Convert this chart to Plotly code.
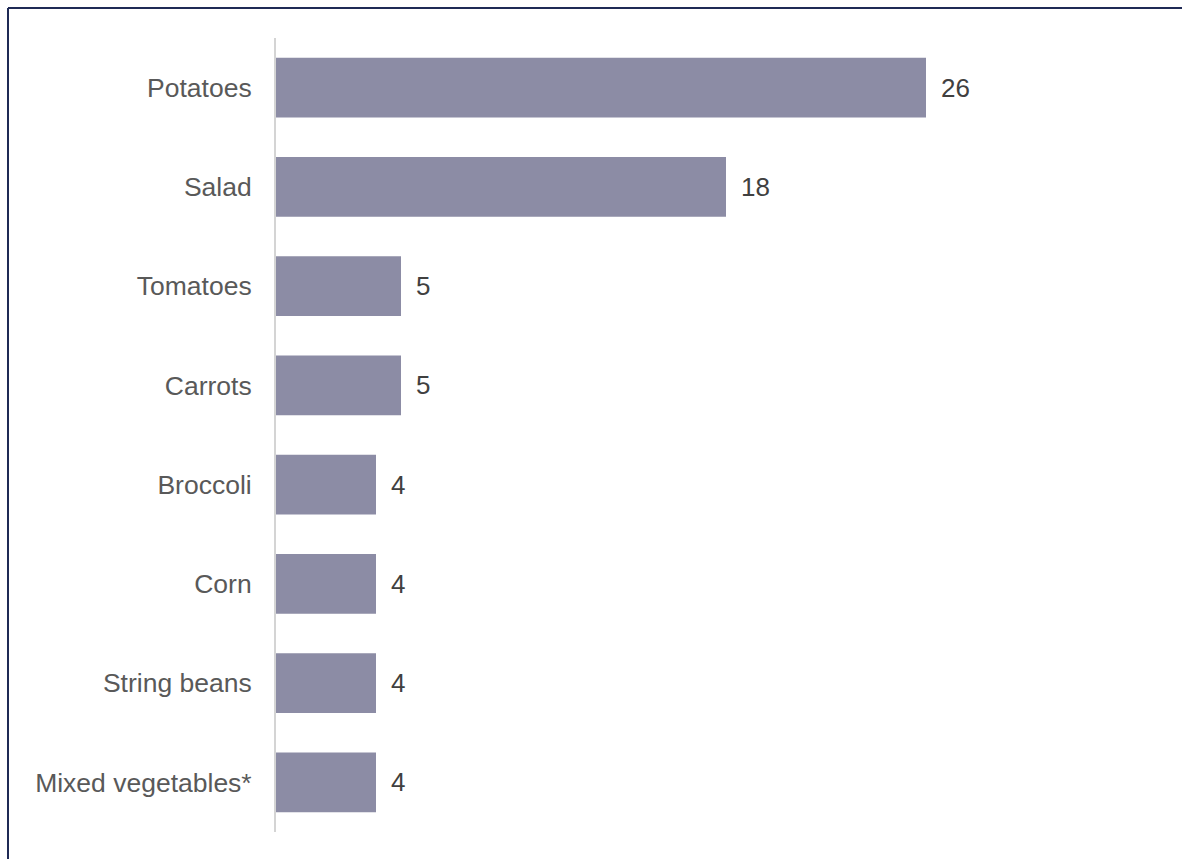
import plotly.graph_objects as go

categories = ["Potatoes", "Salad", "Tomatoes", "Carrots", "Broccoli", "Corn",
              "String beans", "Mixed vegetables*"]
values = [26, 18, 5, 5, 4, 4, 4, 4]
labels = [str(v) for v in values]

BAR_COLOR = "#8c8ca5"
FONT = "Liberation Sans, Arial, sans-serif"

fig = go.Figure()
fig.add_trace(go.Bar(
    y=categories, x=values, orientation="h",
    marker=dict(color=BAR_COLOR, line=dict(width=0)),
    width=0.6, hoverinfo="skip", showlegend=False,
))

for c, v, t in zip(categories, values, labels):
    fig.add_annotation(x=v, y=c, text=t, showarrow=False, xanchor="left",
                       xshift=13, font=dict(family=FONT, size=26, color="#404040"))

L, T, R, B = 276, 38, 6, 27
W, H = 1182, 859
pw = W - L - R
ph = H - T - B

bx0 = (8 - L) / pw
bx1 = (W - L) / pw
by0 = -(H - (H - B)) / ph
by1 = 1 + (T - 8) / ph
border = dict(color="#1f2a55", width=2)
fig.add_shape(type="line", xref="paper", yref="paper", x0=bx0, x1=bx1, y0=by1, y1=by1,
              line=border, layer="above")
fig.add_shape(type="line", xref="paper", yref="paper", x0=bx0, x1=bx0, y0=by0, y1=by1,
              line=border, layer="above")

fig.update_layout(
    width=W, height=H,
    margin=dict(l=L, r=R, t=T, b=B, pad=0),
    paper_bgcolor="white", plot_bgcolor="white",
    font=dict(family=FONT, size=26, color="#595959"),
    xaxis=dict(range=[0, pw / 25.0], visible=False, fixedrange=True),
    yaxis=dict(range=[7.5, -0.5], showline=True, linecolor="#d4d4d4", linewidth=2,
               showgrid=False, zeroline=False, ticks="", ticklabelstandoff=17,
               tickfont=dict(family=FONT, size=26.5, color="#595959"),
               categoryorder="array", categoryarray=categories, fixedrange=True),
)

fig.write_html("out.html", config={"displayModeBar": False})
